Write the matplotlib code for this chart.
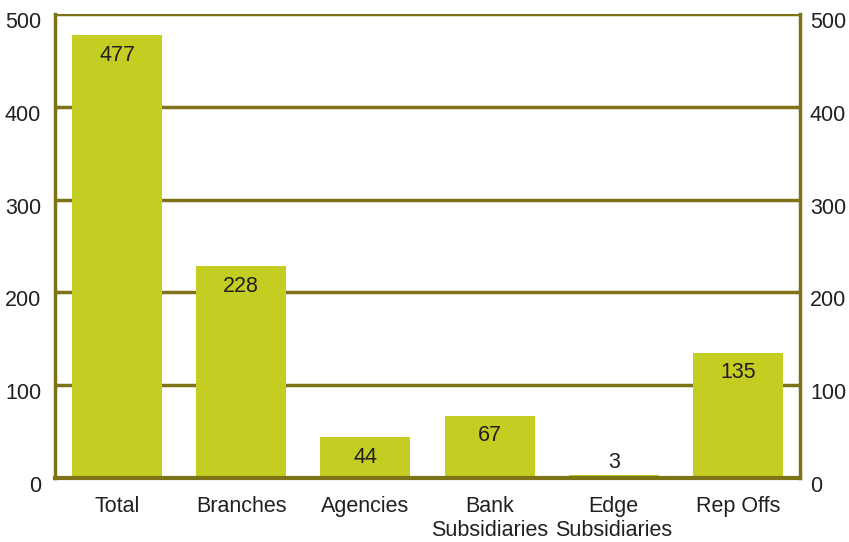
import matplotlib
matplotlib.use("Agg")
import matplotlib.pyplot as plt
import matplotlib.transforms as mtransforms

categories = ["Total", "Branches", "Agencies", "Bank\nSubsidiaries", "Edge\nSubsidiaries", "Rep Offs"]
values = [477, 228, 44, 67, 3, 135]
yticks = [0, 100, 200, 300, 400, 500]

bar_color = "#c3cd22"
line_color = "#7d7316"
text_color = "#231f20"
fs = 15.5

plt.rcParams['font.family'] = ['Liberation Sans', 'DejaVu Sans']

fig = plt.figure(figsize=(8.49, 5.42), dpi=100)
ax = fig.add_axes([55/849, 1-478/542, 745/849, 464/542])

x = list(range(len(categories)))
ax.bar(x, values, width=0.725, color=bar_color, zorder=3)
ax.set_xlim(-0.5, 5.5)
ax.set_ylim(0, 500)

for yv in yticks[1:]:
    ax.axhline(yv, color=line_color, lw=2.5, zorder=2)

for xi, v in zip(x, values):
    if v > 20:
        ax.annotate(str(v), (xi, v), xytext=(0, -20), textcoords="offset pixels",
                    ha="center", va="center", fontsize=fs, color=text_color, zorder=4)
    else:
        ax.annotate(str(v), (xi, v), xytext=(0, 13), textcoords="offset pixels",
                    ha="center", va="center", fontsize=fs, color=text_color, zorder=4)

ax.spines["top"].set_visible(False)
ax.spines["left"].set_color(line_color)
ax.spines["left"].set_linewidth(2.5)
ax.spines["right"].set_color(line_color)
ax.spines["right"].set_linewidth(2.5)
ax.spines["bottom"].set_color(line_color)
ax.spines["bottom"].set_linewidth(3)
ax.spines["bottom"].set_zorder(5)

ax.set_yticks(yticks)
ax.set_yticklabels([str(t) for t in yticks])
ax.tick_params(axis="y", length=0, pad=10, labelsize=fs, labelcolor=text_color,
               labelright=True, right=False)
ax.set_xticks(x)
ax.set_xticklabels(categories, linespacing=1.2)
ax.tick_params(axis="x", length=0, pad=13, labelsize=fs, labelcolor=text_color)

shift1 = mtransforms.ScaledTranslation(0, -6/100, fig.dpi_scale_trans)
shift2 = mtransforms.ScaledTranslation(-4/100, -6/100, fig.dpi_scale_trans)
for t in ax.yaxis.get_major_ticks():
    t.label1.set_transform(t.label1.get_transform() + shift1)
    t.label2.set_transform(t.label2.get_transform() + shift2)

fig.savefig("out.png", dpi=100)
